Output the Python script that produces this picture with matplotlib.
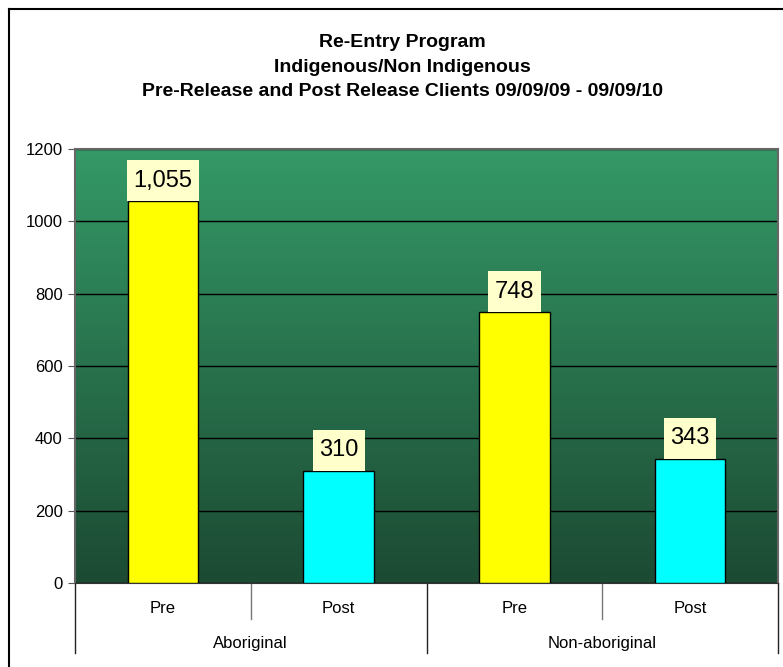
import numpy as np
import matplotlib
matplotlib.use('Agg')
import matplotlib.pyplot as plt
from matplotlib.colors import LinearSegmentedColormap
from matplotlib.lines import Line2D
import matplotlib.transforms as mtransforms

TITLE = ('Re-Entry Program\nIndigenous/Non Indigenous\n'
         'Pre-Release and Post Release Clients 09/09/09 - 09/09/10')
GROUPS = ['Aboriginal', 'Non-aboriginal']
STAGES = ['Pre', 'Post']
VALUES = [1055, 310, 748, 343]
BAR_COLORS = ['#ffff00', '#00ffff', '#ffff00', '#00ffff']
Y_TICKS = [0, 200, 400, 600, 800, 1000, 1200]

plt.rcParams['font.family'] = ['Liberation Sans', 'DejaVu Sans']

fig = plt.figure(figsize=(7.83, 6.67), dpi=100)
ax = fig.add_axes([75 / 783, 84 / 667, 703 / 783, 434 / 667])

# gradient background of the plot area
cmap = LinearSegmentedColormap.from_list('bg', ['#1c4a33', '#349966'])
grad = np.linspace(0, 1, 256).reshape(-1, 1)
ax.imshow(grad, cmap=cmap, aspect='auto', origin='lower',
          extent=[0, 1, 0, 1], transform=ax.transAxes, zorder=0)

x = np.arange(len(VALUES))
ax.set_xlim(-0.5, len(VALUES) - 0.5)
ax.set_ylim(0, 1200)
ax.set_yticks(Y_TICKS)
ax.set_yticklabels([str(t) for t in Y_TICKS], fontsize=12)
ax.tick_params(axis='y', length=5, color='#555555', pad=4)
ax.set_xticks([])
ax.grid(axis='y', color='black', linewidth=1, zorder=1)
ax.set_axisbelow(True)
for side in ['left', 'top', 'right']:
    ax.spines[side].set_color('#666666')
    ax.spines[side].set_linewidth(1.5)
ax.spines['bottom'].set_color('#333333')

ax.bar(x, VALUES, width=0.4, color=BAR_COLORS, edgecolor='black',
       linewidth=1, zorder=3)

# value labels in pale yellow boxes sitting on the bar tops
for xi, v in zip(x, VALUES):
    ax.annotate(f'{v:,}', (xi, v), xytext=(0, 6.9), textcoords='offset points',
                ha='center', va='bottom', fontsize=17, zorder=4,
                bbox=dict(boxstyle='square,pad=0.27', fc='#ffffcc', ec='none',
                          mutation_aspect=1.5))

# two-level category axis
trans = mtransforms.blended_transform_factory(ax.transData, ax.transAxes)
n_stage = len(STAGES)
for i in range(len(VALUES) + 1):
    b = i - 0.5
    if i % n_stage == 0:
        ax.plot([b, b], [0, -0.161], transform=trans, color='#222222',
                lw=1, clip_on=False)
    else:
        ax.plot([b, b], [0, -0.083], transform=trans, color='#777777',
                lw=1, clip_on=False)
for i, xi in enumerate(x):
    ax.text(xi, -0.058, STAGES[i % n_stage], transform=trans, ha='center',
            va='center', fontsize=12)
for g, name in enumerate(GROUPS):
    xc = g * n_stage + (n_stage - 1) / 2
    ax.text(xc, -0.139, name, transform=trans, ha='center', va='center',
            fontsize=12)

fig.text(402 / 783, 1 - 67 / 667, TITLE, ha='center', va='center',
         fontsize=14, fontweight='bold', linespacing=1.6)

# outer chart border (right/bottom edges cut off)
fig.add_artist(Line2D([8.5 / 783, 8.5 / 783], [0, 1 - 8.5 / 667],
                      transform=fig.transFigure, color='black', lw=1.5))
fig.add_artist(Line2D([8.5 / 783, 1], [1 - 8.5 / 667, 1 - 8.5 / 667],
                      transform=fig.transFigure, color='black', lw=1.5))

fig.savefig('out.png', dpi=100)
